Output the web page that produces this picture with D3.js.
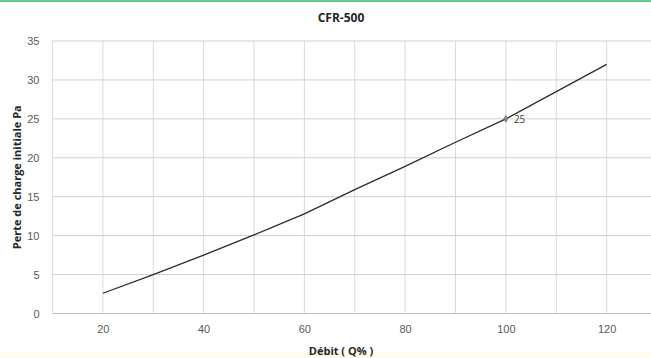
<!DOCTYPE html>
<html><head><meta charset="utf-8">
<script src="https://cdn.jsdelivr.net/npm/d3@7"></script>
<style>
html,body{margin:0;padding:0;background:#fff;overflow:hidden;}
svg{display:block;font-family:"Open Sans","Liberation Sans",sans-serif;}
</style></head>
<body><svg id="c" width="651" height="358"></svg>
<script>
const debit = [20, 30, 40, 50, 60, 70, 80, 90, 100, 110, 120];
const perte = [2.6, 5.0, 7.5, 10.1, 12.8, 15.9, 18.9, 22.0, 25.0, 28.5, 32.0];
const xTicks = [20, 40, 60, 80, 100, 120];
const yTicks = [0, 5, 10, 15, 20, 25, 30, 35];
const labelled = [{x: 100, y: 25, text: "25"}];
const title = "CFR-500";
const xTitle = "Débit  ( Q% )";
const yTitle = "Perte de charge initiale  Pa";

const svg = d3.select("#c");
svg.append("rect").attr("x",0).attr("y",0).attr("width",651).attr("height",2).attr("fill","#62c98e");
svg.append("rect").attr("x",0).attr("y",352).attr("width",651).attr("height",6).attr("fill","#fffcf2");

const x = d3.scaleLinear().domain([10, 130]).range([52.5, 657]);
const y = d3.scaleLinear().domain([0, 35]).range([313.5, 41]);

const xGrid = d3.range(10, 131, 10);
svg.append("g").selectAll("line").data(xGrid).join("line")
  .attr("x1", d => x(d)).attr("x2", d => x(d))
  .attr("y1", y(0)).attr("y2", y(35))
  .attr("stroke", "#d9d9d9").attr("stroke-width", 1);
svg.append("g").selectAll("line").data(yTicks).join("line")
  .attr("x1", x(10)).attr("x2", x(130))
  .attr("y1", d => y(d)).attr("y2", d => y(d))
  .attr("stroke", d => d === 0 ? "#bfbfbf" : "#d0d0d0").attr("stroke-width", 1);

const xAxis = svg.append("g").attr("transform", `translate(0,${y(0)})`)
  .call(d3.axisBottom(x).tickValues(xTicks).tickSize(0).tickPadding(12));
xAxis.select(".domain").remove();
xAxis.selectAll("text").attr("fill", "#595959").style("font-size", "11px");

const yAxis = svg.append("g").attr("transform", `translate(${x(10)},0)`)
  .call(d3.axisLeft(y).tickValues(yTicks).tickSize(0).tickPadding(13));
yAxis.select(".domain").remove();
yAxis.selectAll("text").attr("fill", "#595959").style("font-size", "11px");

const pts = debit.map((d, i) => [d, perte[i]]);
svg.append("path").datum(pts)
  .attr("d", d3.line().x(d => x(d[0])).y(d => y(d[1])))
  .attr("fill", "none").attr("stroke", "#2b2b2b").attr("stroke-width", 1.3);

const lab = svg.append("g").selectAll("g").data(labelled).join("g");
lab.append("path")
  .attr("d", d3.symbol().type(d3.symbolDiamond).size(14))
  .attr("transform", d => `translate(${x(d.x)},${y(d.y)})`)
  .attr("fill", "#888").attr("stroke", "#666").attr("stroke-width", 0.6);
lab.append("text").attr("x", d => x(d.x) + 8).attr("y", d => y(d.y) + 4)
  .text(d => d.text).attr("fill", "#404040").style("font-size", "10px");

svg.append("text").attr("x", 341).attr("y", 22).attr("text-anchor", "middle")
  .style("font-size", "12px").style("font-weight", "bold").attr("fill", "#262626").text(title);
svg.append("text").attr("x", 341).attr("y", 355).attr("text-anchor", "middle")
  .style("font-size", "11px").style("font-weight", "bold").attr("fill", "#262626").text(xTitle);
svg.append("text").attr("transform", `translate(21,${(y(0)+y(35))/2}) rotate(-90)`)
  .attr("text-anchor", "middle")
  .style("font-size", "11px").style("font-weight", "bold").attr("fill", "#262626").text(yTitle);
</script></body></html>
